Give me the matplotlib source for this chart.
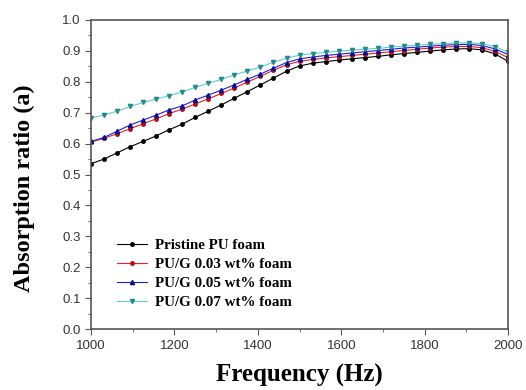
import numpy as np
import matplotlib
matplotlib.use("Agg")
import matplotlib.pyplot as plt
from matplotlib.ticker import MultipleLocator

# frequency grid (Hz), one point every 31.25 Hz
freq = np.linspace(1000, 2000, 33)

pristine = [0.535, 0.550, 0.570, 0.590, 0.607, 0.625, 0.645, 0.663, 0.685, 0.705,
            0.725, 0.747, 0.768, 0.790, 0.812, 0.834, 0.851, 0.860, 0.865, 0.870,
            0.874, 0.878, 0.882, 0.887, 0.891, 0.895, 0.899, 0.903, 0.906, 0.907,
            0.903, 0.890, 0.866]
g003 = [0.605, 0.617, 0.632, 0.648, 0.664, 0.680, 0.697, 0.712, 0.728, 0.745,
        0.762, 0.780, 0.799, 0.818, 0.837, 0.855, 0.866, 0.872, 0.877, 0.881,
        0.885, 0.889, 0.893, 0.897, 0.901, 0.905, 0.909, 0.912, 0.914, 0.914,
        0.910, 0.898, 0.878]
g005 = [0.607, 0.620, 0.640, 0.660, 0.676, 0.692, 0.709, 0.722, 0.741, 0.757,
        0.773, 0.790, 0.808, 0.825, 0.844, 0.862, 0.874, 0.880, 0.885, 0.889,
        0.893, 0.897, 0.901, 0.905, 0.909, 0.912, 0.915, 0.918, 0.920, 0.921,
        0.917, 0.906, 0.888]
g007 = [0.683, 0.692, 0.705, 0.720, 0.733, 0.744, 0.755, 0.767, 0.782, 0.795,
        0.808, 0.822, 0.835, 0.848, 0.863, 0.876, 0.886, 0.891, 0.895, 0.899,
        0.902, 0.905, 0.908, 0.912, 0.915, 0.918, 0.921, 0.923, 0.925, 0.926,
        0.923, 0.913, 0.896]

labels = ['Pristine PU foam', 'PU/G 0.03 wt% foam',
          'PU/G 0.05 wt% foam', 'PU/G 0.07 wt% foam']

fig = plt.figure(figsize=(5.26, 3.9), dpi=100)
ax = fig.add_axes([0.173, 0.156, 0.793, 0.793])

ax.plot(freq, pristine, '-o', color='black', ms=2.5, lw=0.8, label=labels[0])
ax.plot(freq, g003, '-o', color='#e8202a', mfc='#b01018', mec='#b01018', ms=2.5, lw=0.8, label=labels[1])
ax.plot(freq, g005, '-^', color='#2020d0', mfc='#10108a', mec='#10108a', ms=3, lw=0.8, label=labels[2])
ax.plot(freq, g007, '-v', color='#5fcfcf', mfc='#2a8a8a', mec='#2a8a8a', ms=3, lw=0.8, label=labels[3])

ax.set_xlim(1000, 2000)
ax.set_ylim(0.0, 1.0)
ax.xaxis.set_major_locator(MultipleLocator(200))
ax.xaxis.set_minor_locator(MultipleLocator(100))
ax.yaxis.set_major_locator(MultipleLocator(0.1))
ax.yaxis.set_minor_locator(MultipleLocator(0.05))
ax.yaxis.set_major_formatter(matplotlib.ticker.FormatStrFormatter('%.1f'))

for s in ax.spines.values():
    s.set_color('#555555')
    s.set_linewidth(1.2)
ax.tick_params(which='both', direction='out', top=False, right=False,
               colors='#555555', labelcolor='#333333')
ax.tick_params(which='major', length=4, labelsize=9.5)
ax.tick_params(which='minor', length=2.5)
for lab in ax.get_xticklabels() + ax.get_yticklabels():
    lab.set_fontfamily('Liberation Sans')

ax.set_xlabel('Frequency (Hz)', fontfamily='Liberation Serif', fontweight='bold',
              fontsize=18, labelpad=9)
ax.set_ylabel('Absorption ratio (a)', fontfamily='Liberation Serif', fontweight='bold',
              fontsize=17.5)
ax.yaxis.set_label_coords(-0.135, 0.456)

leg = ax.legend(loc='lower left', bbox_to_anchor=(0.03, 0.02), frameon=False,
                prop={'family': 'Liberation Serif', 'weight': 'bold', 'size': 10.8},
                handlelength=2.0, labelspacing=0.38, handletextpad=0.5)

fig.savefig('out.png', dpi=100)
